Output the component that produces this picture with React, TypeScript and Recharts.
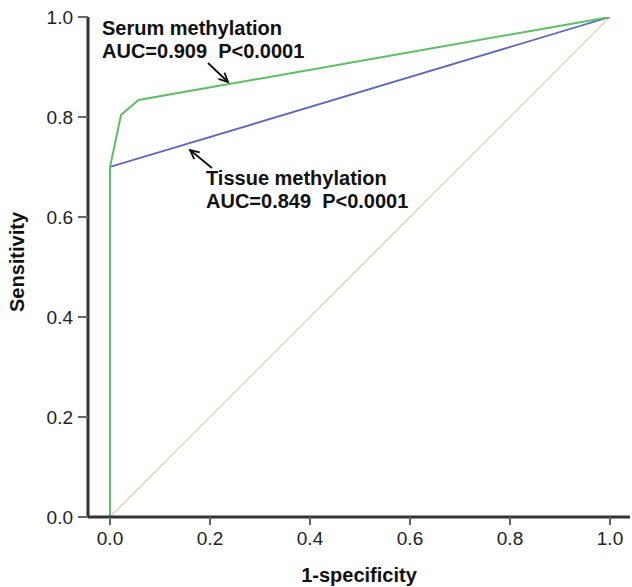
import React from "react";
import {
  LineChart,
  Line,
  XAxis,
  YAxis,
  ReferenceLine,
  ReferenceDot,
  Label,
} from "recharts";

// ROC points
const serumX = [0, 0, 0.022, 0.057, 1];
const serumY = [0, 0.7, 0.804, 0.834, 1];
const tissueX = [0, 0, 1];
const tissueY = [0, 0.7, 1];
const refX = [0, 1];
const refY = [0, 1];

const ticks = [0, 0.2, 0.4, 0.6, 0.8, 1.0];

const toPoints = (xs: number[], ys: number[]) =>
  xs.map((x, i) => ({ x, y: ys[i] }));

const serumData = toPoints(serumX, serumY);
const tissueData = toPoints(tissueX, tissueY);
const refData = toPoints(refX, refY);

const FONT = "'Liberation Sans', Arial, sans-serif";

const Arrow = (props: any) => {
  const { x1, y1, x2, y2 } = props;
  const ang = Math.atan2(y2 - y1, x2 - x1);
  const len = 10;
  const spread = 0.45;
  const p1 = [x2 - len * Math.cos(ang - spread), y2 - len * Math.sin(ang - spread)];
  const p2 = [x2 - len * Math.cos(ang + spread), y2 - len * Math.sin(ang + spread)];
  return (
    <g stroke="#111" strokeWidth={1.8} fill="none">
      <line x1={x1} y1={y1} x2={x2} y2={y2} />
      <polyline points={`${p1[0]},${p1[1]} ${x2},${y2} ${p2[0]},${p2[1]}`} />
    </g>
  );
};

const annotation = (line1: string, line2: string) => (props: any) => {
  const { cx, cy } = props;
  return (
    <g>
      <text x={cx} y={cy} fontFamily={FONT} fontSize={20} fontWeight="bold" fill="#111">
        {line1}
      </text>
      <text x={cx} y={cy + 23} fontFamily={FONT} fontSize={20} fontWeight="bold" fill="#111" xmlSpace="preserve">
        {line2}
      </text>
    </g>
  );
};

const App: React.FC = () => {
  const tickStyle = { fontSize: 19, fill: "#222", fontFamily: FONT };
  return (
    <div style={{ position: "absolute", left: 0, top: 0, background: "#fff" }}>
      <LineChart width={632} height={587} margin={{ top: 17, right: 2, bottom: 0, left: 0 }}>
        <XAxis
          type="number"
          dataKey="x"
          domain={[-0.044, 1.04]}
          ticks={ticks}
          allowDataOverflow
          tickFormatter={(v) => v.toFixed(1)}
          tick={tickStyle}
          tickSize={8}
          tickMargin={7}
          height={70}
          axisLine={{ stroke: "#333", strokeWidth: 3 }}
          tickLine={{ stroke: "#666", strokeWidth: 2 }}
        >
          <Label
            value="1-specificity"
            position="insideBottom"
            offset={5}
            style={{ fontSize: 20, fontWeight: "bold", fill: "#111", fontFamily: FONT }}
          />
        </XAxis>
        <YAxis
          type="number"
          dataKey="y"
          domain={[0, 1]}
          ticks={ticks}
          allowDataOverflow
          tickFormatter={(v) => v.toFixed(1)}
          tick={tickStyle}
          tickSize={10}
          tickMargin={5}
          width={88}
          axisLine={{ stroke: "#333", strokeWidth: 3 }}
          tickLine={{ stroke: "#666", strokeWidth: 2 }}
        >
          <Label
            value="Sensitivity"
            angle={-90}
            position="insideLeft"
            offset={17}
            dy={-5}
            style={{ fontSize: 20, fontWeight: "bold", fill: "#111", fontFamily: FONT, textAnchor: "middle" }}
          />
        </YAxis>
        <Line data={refData} dataKey="y" type="linear" stroke="#dcdcb4" strokeWidth={1.5} dot={false} isAnimationActive={false} />
        <Line data={tissueData} dataKey="y" type="linear" stroke="#5a68c0" strokeWidth={1.8} dot={false} isAnimationActive={false} />
        <Line data={serumData} dataKey="y" type="linear" stroke="#5cbf62" strokeWidth={2} dot={false} isAnimationActive={false} />
        <ReferenceLine segment={[{ x: 0.196, y: 0.908 }, { x: 0.236, y: 0.87 }]} shape={Arrow} />
        <ReferenceLine segment={[{ x: 0.204, y: 0.698 }, { x: 0.16, y: 0.734 }]} shape={Arrow} />
        <ReferenceDot x={-0.016} y={0.964} shape={annotation("Serum methylation", "AUC=0.909  P<0.0001")} />
        <ReferenceDot x={0.192} y={0.664} shape={annotation("Tissue methylation", "AUC=0.849  P<0.0001")} />
      </LineChart>
    </div>
  );
};

export default App;
